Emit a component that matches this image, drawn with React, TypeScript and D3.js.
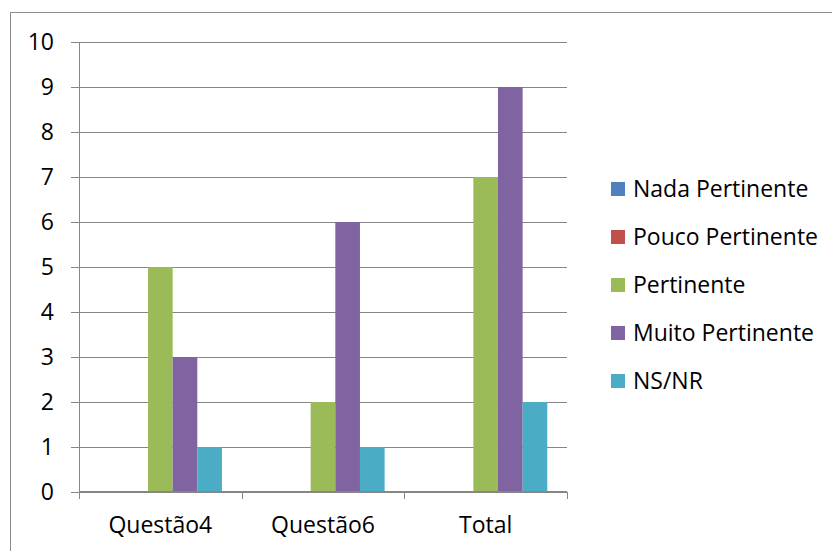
import React from 'react';
import * as d3 from 'd3';

const categories = ['Questão4', 'Questão6', 'Total'];
const seriesNames = ['Nada Pertinente', 'Pouco Pertinente', 'Pertinente', 'Muito Pertinente', 'NS/NR'];
const nada = [0, 0, 0];
const pouco = [0, 0, 0];
const pertinente = [5, 2, 7];
const muito = [3, 6, 9];
const nsnr = [1, 1, 2];
const yTicks = [0, 1, 2, 3, 4, 5, 6, 7, 8, 9, 10];
const colors = ['#4F81BD', '#C0504D', '#9BBB59', '#8064A2', '#4BACC6'];

const seriesValues = [nada, pouco, pertinente, muito, nsnr];

const W = 832;
const H = 551;
const FONT = "'Open Sans', sans-serif";
const FS = 23;

const App = () => {
  const x0 = d3.scaleBand().domain(categories).range([79, 567]).paddingInner(0).paddingOuter(0);
  const x1 = d3.scaleBand().domain(seriesNames).range([0, x0.bandwidth()]).paddingInner(0).paddingOuter(0.8);
  const y = d3.scaleLinear().domain([0, 10]).range([492, 42]);
  const grid = '#868686';

  const tickXs = [...categories.map((c) => x0(c)), 567];

  return (
    <svg width={W} height={H} style={{ position: 'absolute', left: 0, top: 0, background: '#fff' }}>
      <rect x={10.5} y={12.5} width={W + 10} height={H + 10} fill="none" stroke="#8c8c8c" strokeWidth={1} />

      {/* gridlines + y labels */}
      {yTicks.map((t) => (
        <g key={t}>
          <line x1={71} x2={567} y1={Math.round(y(t)) + 0.5} y2={Math.round(y(t)) + 0.5} stroke={grid} strokeWidth={1} />
          <text x={54} y={y(t)} dy="0.35em" textAnchor="end" fontFamily={FONT} fontSize={FS} fill="#000">
            {t}
          </text>
        </g>
      ))}

      {/* bars */}
      {seriesNames.map((s, si) =>
        categories.map((c, ci) => {
          const v = seriesValues[si][ci];
          if (!v) return null;
          return (
            <rect
              key={s + c}
              x={x0(c) + x1(s)}
              y={y(v)}
              width={x1.bandwidth()}
              height={y(0) - y(v)}
              fill={colors[si]}
            />
          );
        })
      )}

      {/* axes */}
      <line x1={79.5} x2={79.5} y1={42} y2={492} stroke={grid} strokeWidth={1} />
      <line x1={79} x2={567} y1={491.5} y2={491.5} stroke={grid} strokeWidth={1} />
      {tickXs.map((tx, i) => (
        <line key={i} x1={Math.round(tx) + 0.5} x2={Math.round(tx) + 0.5} y1={492} y2={499} stroke={grid} strokeWidth={1} />
      ))}

      {categories.map((c) => (
        <text key={c} x={x0(c) + x0.bandwidth() / 2} y={525} dy="0.35em" textAnchor="middle" fontFamily={FONT} fontSize={FS} fill="#000">
          {c}
        </text>
      ))}

      {/* legend */}
      {seriesNames.map((s, i) => (
        <g key={s} transform={`translate(611, ${189 + i * 48})`}>
          <rect x={0} y={-7} width={14} height={14} fill={colors[i]} />
          <text x={22} y={0} dy="0.35em" fontFamily={FONT} fontSize={FS} fill="#000">
            {s}
          </text>
        </g>
      ))}
    </svg>
  );
};

export default App;
